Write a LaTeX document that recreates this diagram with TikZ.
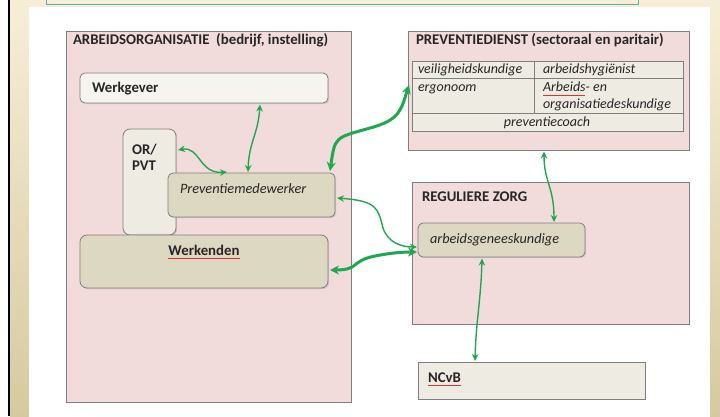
\documentclass[tikz,border=0pt]{standalone}
\usepackage{fontspec}
\setmainfont{Carlito}
\usetikzlibrary{arrows.meta,calc,shadows}
\definecolor{pinkbg}{HTML}{F2DCDB}
\definecolor{khaki}{HTML}{DCD8C2}
\definecolor{light}{HTML}{EEECE2}
\definecolor{wgfill}{HTML}{F5F4EE}
\definecolor{boxline}{HTML}{7F7F7F}
\definecolor{grn}{HTML}{1FA850}
\definecolor{txt}{HTML}{262626}
\definecolor{beigetop}{HTML}{F7EED8}
\definecolor{beigebot}{HTML}{D5CA9F}
\definecolor{tealln}{HTML}{5AAEB0}
\definecolor{spell}{HTML}{E03030}
\begin{document}
\begin{tikzpicture}[x=1pt,y=-1pt,
  box/.style={draw=boxline, line width=0.8pt, anchor=north west, inner sep=0pt, outer sep=0pt,
     drop shadow={shadow xshift=1.2pt, shadow yshift=-1.2pt, opacity=0.25}},
  pinkbox/.style={box, fill=pinkbg},
  rbox/.style={box, rounded corners=5pt},
  lbl/.style={anchor=base west, inner sep=0pt, outer sep=0pt, text=txt, font=\fontsize{14}{16}\selectfont},
  blbl/.style={lbl, font=\fontsize{14.8}{16}\selectfont\bfseries},
  ilbl/.style={lbl, font=\fontsize{14.3}{16}\selectfont\itshape},
  clbl/.style={lbl, font=\fontsize{14}{16}\selectfont\itshape},
  thinarr/.style={draw=grn, line width=1.4pt, {Stealth[length=7pt,width=6.5pt]}-{Stealth[length=7pt,width=6.5pt]}},
  thickarr/.style={draw=grn, line width=3pt, {Stealth[length=9pt,width=9pt]}-{Stealth[length=9pt,width=9pt]}},
  squig/.style={draw=spell, line width=0.5pt}
]
\useasboundingbox (0,0) rectangle (720,416);
% background frame
\fill[white] (0,0) rectangle (720,416);
\shade[top color=beigetop, bottom color=beigebot] (10,0) rectangle (720,416);
\fill[white] (29,7) rectangle (710,417);
\fill[black] (8,0) rectangle (10,416);
\draw[tealln, line width=0.8pt] (46,0) -- (46,4.5) -- (638,4.5) -- (638,0);

% ARBEIDSORGANISATIE
\node[pinkbox, minimum width=285pt, minimum height=371pt] (ao) at (66,31) {};
\node[blbl] (aot) at (73,44) {ARBEIDSORGANISATIE\ \ (bedrijf, instelling)};
\node[rbox, fill=wgfill, minimum width=248pt, minimum height=30pt] (wg) at (80,73) {};
\node[blbl] (wgt) at (92,92) {Werkgever};
\node[box, rounded corners=7pt, fill=light, minimum width=53pt, minimum height=106pt] (or) at (123,129) {};
\node[blbl] (ort1) at (132,154) {OR/};
\node[blbl] (ort2) at (132,170) {PVT};
\node[rbox, fill=khaki, minimum width=167pt, minimum height=44pt] (pm) at (168,173) {};
\node[ilbl] (pmt) at (180,193) {Preventiemedewerker};
\node[box, rounded corners=7pt, fill=khaki, minimum width=248pt, minimum height=53pt] (wk) at (80,235) {};
\node[blbl, anchor=base] (wkt) at (204,255) {Werkenden};
\draw[squig] ($(wkt.base west)+(0,3)$) -- ($(wkt.base east)+(0,3)$);

% PREVENTIEDIENST
\node[pinkbox, minimum width=281pt, minimum height=119pt] (pd) at (408,31) {};
\node[blbl] (pdt) at (416,44) {PREVENTIEDIENST (sectoraal en paritair)};
\node[draw=boxline, line width=0.8pt, fill=light, anchor=north west, inner sep=0pt,
      minimum width=271pt, minimum height=70pt] (tbl) at (412,61) {};
\draw[boxline, line width=0.8pt] ($(tbl.north west)+(0,17)$) -- ($(tbl.north east)+(0,17)$);
\draw[boxline, line width=0.8pt] ($(tbl.north west)+(0,52)$) -- ($(tbl.north east)+(0,52)$);
\draw[boxline, line width=0.8pt] ($(tbl.north west)+(122,0)$) -- ($(tbl.north west)+(122,52)$);
\node[clbl] (c1) at (418,73) {veiligheidskundige};
\node[clbl] (c2) at (543,73) {arbeidshygiënist};
\node[clbl] (c3) at (418,91) {ergonoom};
\node[clbl] (c4) at (543,91) {Arbeids- en};
\node[clbl] (c5) at (543,108) {organisatiedeskundige};
\node[clbl, anchor=base] (c6) at (547,126) {preventiecoach};
\draw[squig] (543,95) -- (585,95);

% REGULIERE ZORG
\node[pinkbox, minimum width=277pt, minimum height=142pt] (rz) at (412,182) {};
\node[blbl] (rzt) at (422,201) {REGULIERE ZORG};
\node[rbox, fill=khaki, minimum width=167pt, minimum height=34pt] (ag) at (418,223) {};
\node[ilbl] (agt) at (430,243) {arbeidsgeneeskundige};

% NCvB
\node[box, fill=light, minimum width=227pt, minimum height=37pt] (nc) at (418,362) {};
\node[blbl] (nct) at (428,382) {NCvB};
\draw[squig] ($(nct.base west)+(0,3.5)$) -- ($(nct.base east)+(0,3.5)$);

% connectors
\draw[thinarr] ($(wg.south west)+(180,1.5)$) .. controls +(-2,30) and +(1,-30) .. ($(pm.north west)+(80,-1)$);
\draw[thinarr] ($(or.north east)+(2,21)$) .. controls +(22,-4) and +(-28,2) .. ($(pm.north west)+(59,-1)$);
\draw[thickarr] ($(pm.north east)+(-5,-2)$) .. controls +(5,-35) and +(-35,10) .. (370,128)
   .. controls +(30,-8) and +(-8,25) .. ($(tbl.north west)+(-3,24)$);
\draw[thinarr] ($(pm.north east)+(2,25)$) .. controls +(40,3) and +(-5,-20) .. (383,228)
   .. controls +(5,15) and +(-15,0) .. ($(ag.north west)+(-1,24)$);
\draw[thickarr] ($(wk.north east)+(2,35)$) .. controls +(30,0) and +(-25,5) .. (375,256)
   .. controls +(15,-3) and +(-15,0) .. ($(ag.north west)+(-1,29)$);
\draw[thinarr] ($(pd.south west)+(136,1.5)$) .. controls +(0,30) and +(0,-35) .. ($(ag.north west)+(136,-1)$);
\draw[thinarr] ($(ag.south west)+(64,1.5)$) .. controls +(-1,40) and +(1,-40) .. ($(nc.north west)+(57,-1)$);
\end{tikzpicture}
\end{document}
